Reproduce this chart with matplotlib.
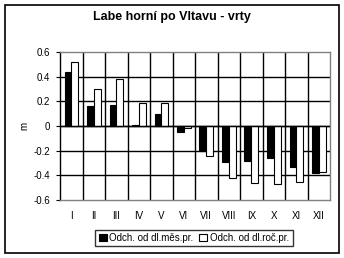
import matplotlib.pyplot as plt
import numpy as np
from matplotlib.patches import Rectangle

plt.rcParams['font.family'] = ['Liberation Sans', 'DejaVu Sans']

months = ["I", "II", "III", "IV", "V", "VI", "VII", "VIII", "IX", "X", "XI", "XII"]
odch_mes = [0.44, 0.16, 0.17, 0.01, 0.10, -0.05, -0.20, -0.29, -0.28, -0.26, -0.33, -0.38]
odch_roc = [0.52, 0.30, 0.38, 0.19, 0.19, -0.02, -0.24, -0.42, -0.46, -0.47, -0.45, -0.37]

fig = plt.figure(figsize=(3.44, 2.58), dpi=100)
# outer chart border
fig.patches.append(Rectangle((5 / 344, 5 / 258), 334 / 344, 248 / 258, transform=fig.transFigure,
                             fill=False, edgecolor='black', linewidth=1.2))

ax = fig.add_axes([60 / 344, 1 - 200 / 258, 270 / 344, 148 / 258])
x = np.arange(len(months))
w = 0.3
ax.bar(x - w / 2, odch_mes, w, color='black', edgecolor='black', linewidth=0.8,
       label='Odch. od dl.měs.pr.', zorder=3)
ax.bar(x + w / 2, odch_roc, w, color='white', edgecolor='black', linewidth=0.8,
       label='Odch. od dl.roč.pr.', zorder=3)

ax.set_xlim(-0.5, len(months) - 0.5)
ax.set_ylim(-0.6, 0.6)
ax.set_yticks([-0.6, -0.4, -0.2, 0, 0.2, 0.4, 0.6])
ax.set_yticklabels(['-0.6', '-0.4', '-0.2', '0', '0.2', '0.4', '0.6'], fontsize=7)
ax.set_xticks(x)
ax.set_xticklabels(months, fontsize=7)
ax.tick_params(axis='x', length=0, pad=8)
ax.tick_params(axis='y', length=3, width=0.8, pad=4)

for yv in [-0.4, -0.2, 0, 0.2, 0.4]:
    ax.axhline(yv, color='black', linewidth=1, zorder=1)
for xv in np.arange(0.5, len(months) - 0.5, 1):
    ax.axvline(xv, color='black', linewidth=1, zorder=1)
ax.axhline(0, color='black', linewidth=1, zorder=4)

for s in ax.spines.values():
    s.set_color('#808080')
    s.set_linewidth(1)
ax.spines['left'].set_color('black')

ax.set_ylabel('m', fontsize=7, labelpad=3)

fig.text(0.5, 1 - 17 / 258, 'Labe horní po Vltavu - vrty', ha='center', va='center',
         fontsize=9, fontweight='bold')

leg = fig.legend(loc='center', bbox_to_anchor=(194 / 344, 1 - 238 / 258), ncol=2, fontsize=7,
                 frameon=True, fancybox=False, edgecolor='black', handlelength=0.8,
                 handleheight=0.8, handletextpad=0.3, columnspacing=0.6, borderpad=0.35)
leg.get_frame().set_linewidth(1)

fig.savefig('out.png', dpi=100)
